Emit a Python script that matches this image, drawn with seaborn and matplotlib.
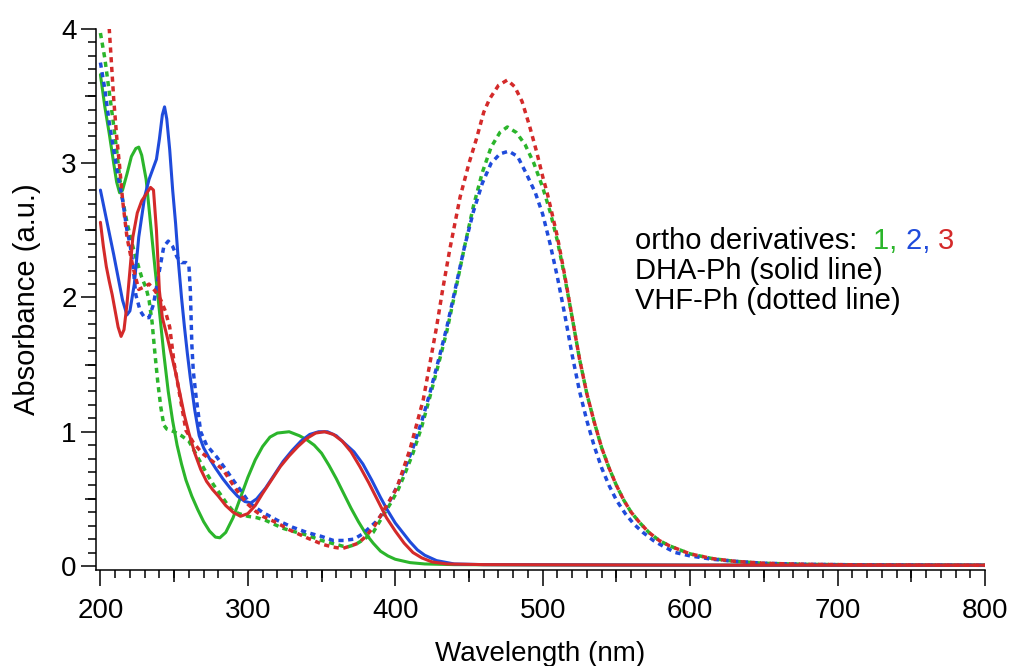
import pandas as pd
import matplotlib.pyplot as plt
import seaborn as sns
from matplotlib.ticker import MultipleLocator, NullLocator


# DHA-Ph, ortho derivative 1 (solid, green)
wl_dha1 = [200, 203, 206, 209, 211, 213, 215, 218, 221, 224,
           226, 228, 231, 234, 237, 240, 243, 246, 249, 252,
           255, 258, 262, 266, 270, 274, 278, 281, 285, 290,
           295, 300, 305, 310, 315, 320, 328, 335, 340, 345,
           350, 355, 360, 365, 370, 375, 380, 385, 390, 395,
           400, 410, 420, 440, 500, 600, 700, 800]
a_dha1 = [3.66, 3.42, 3.22, 3.00, 2.86, 2.78, 2.80, 2.92, 3.05, 3.11,
          3.12, 3.06, 2.88, 2.55, 2.22, 1.90, 1.58, 1.30, 1.08, 0.90,
          0.76, 0.64, 0.52, 0.42, 0.33, 0.26, 0.215, 0.21, 0.25, 0.36,
          0.51, 0.66, 0.79, 0.89, 0.96, 0.99, 1.00, 0.97, 0.94, 0.90,
          0.84, 0.75, 0.65, 0.54, 0.43, 0.33, 0.24, 0.17, 0.11, 0.075,
          0.05, 0.025, 0.015, 0.01, 0.008, 0.006, 0.006, 0.006]

# DHA-Ph, ortho derivative 2 (solid, blue)
wl_dha2 = [200, 203, 206, 209, 212, 215, 218, 220, 223, 226,
           230, 233, 236, 238, 240, 242, 243.5, 245, 247, 249,
           251, 253, 255, 257, 259, 261, 264, 267, 270, 274,
           278, 283, 288, 293, 298, 302, 306, 312, 318, 324,
           330, 336, 342, 348, 354, 360, 366, 372, 378, 384,
           390, 395, 400, 405, 410, 415, 420, 428, 440, 460,
           600, 800]
a_dha2 = [2.80, 2.64, 2.48, 2.32, 2.15, 1.98, 1.87, 1.90, 2.10, 2.45,
          2.75, 2.88, 2.97, 3.03, 3.18, 3.36, 3.42, 3.33, 3.10, 2.80,
          2.55, 2.25, 2.00, 1.78, 1.58, 1.40, 1.16, 0.97, 0.88, 0.80,
          0.73, 0.65, 0.58, 0.52, 0.48, 0.47, 0.50, 0.58, 0.68, 0.78,
          0.86, 0.93, 0.98, 1.00, 1.00, 0.97, 0.91, 0.85, 0.76, 0.64,
          0.51, 0.41, 0.32, 0.25, 0.18, 0.12, 0.08, 0.04, 0.015, 0.01,
          0.006, 0.006]

# DHA-Ph, ortho derivative 3 (solid, red)
wl_dha3 = [200, 202, 204, 206, 208, 210, 212, 214, 216, 218,
           222, 225, 228, 231, 234, 236, 238, 240, 242, 245,
           248, 251, 254, 257, 260, 264, 268, 272, 276, 280,
           285, 290, 295, 300, 305, 310, 316, 322, 328, 334,
           340, 346, 352, 358, 364, 370, 376, 382, 388, 394,
           400, 406, 412, 418, 425, 435, 460, 600, 800]
a_dha3 = [2.56, 2.38, 2.23, 2.12, 2.02, 1.90, 1.78, 1.71, 1.76, 1.95,
          2.45, 2.63, 2.72, 2.77, 2.82, 2.80, 2.50, 2.05, 1.85, 1.72,
          1.58, 1.44, 1.28, 1.12, 0.99, 0.84, 0.72, 0.63, 0.57, 0.52,
          0.45, 0.40, 0.37, 0.39, 0.45, 0.54, 0.64, 0.74, 0.82, 0.89,
          0.95, 0.99, 1.00, 0.98, 0.93, 0.85, 0.74, 0.62, 0.49, 0.36,
          0.26, 0.17, 0.10, 0.06, 0.03, 0.015, 0.01, 0.006, 0.006]

# VHF-Ph, ortho derivative 1 (dotted, green)
wl_vhf1 = [200, 203, 206, 209, 211, 213, 215, 218, 221, 224,
           228, 231, 233, 235, 237, 239, 241, 243, 245, 250,
           255, 260, 264, 268, 272, 277, 281, 286, 290, 294,
           300, 306, 312, 318, 324, 330, 340, 350, 360, 367,
           373, 379, 385, 392, 397, 402, 407, 412, 418, 423,
           429, 435, 441, 447, 453, 459, 465, 471, 476, 482,
           488, 494, 500, 505, 510, 515, 520, 525, 530, 535,
           540, 545, 550, 555, 560, 566, 572, 579, 586, 593,
           600, 615, 630, 650, 680, 720, 800]
a_vhf1 = [3.97, 3.78, 3.53, 3.28, 3.10, 2.90, 2.73, 2.56, 2.42, 2.30,
          2.15, 2.07, 1.98, 1.82, 1.58, 1.36, 1.18, 1.05, 1.02, 1.00,
          0.97, 0.93, 0.85, 0.77, 0.69, 0.60, 0.54, 0.46, 0.41, 0.39,
          0.37, 0.36, 0.34, 0.31, 0.28, 0.26, 0.23, 0.19, 0.16, 0.14,
          0.16, 0.20, 0.25, 0.38, 0.47, 0.57, 0.70, 0.84, 1.04, 1.24,
          1.49, 1.75, 2.06, 2.38, 2.68, 2.93, 3.12, 3.23, 3.27, 3.23,
          3.14, 3.00, 2.82, 2.64, 2.42, 2.15, 1.85, 1.54, 1.28, 1.07,
          0.88, 0.73, 0.60, 0.49, 0.40, 0.32, 0.25, 0.19, 0.15, 0.12,
          0.09, 0.055, 0.035, 0.02, 0.012, 0.008, 0.005]

# VHF-Ph, ortho derivative 2 (dotted, blue)
wl_vhf2 = [200, 203, 206, 209, 212, 215, 218, 220, 222, 224,
           227, 230, 233, 236, 240, 243, 246, 249, 252, 255,
           258, 260, 261, 262, 263, 265, 268, 272, 279, 285,
           290, 296, 301, 306, 310, 320, 330, 340, 350, 358,
           365, 372, 378, 383, 387, 392, 397, 402, 407, 412,
           418, 423, 429, 435, 441, 447, 453, 459, 465, 471,
           477, 483, 489, 495, 500, 505, 510, 515, 520, 525,
           530, 535, 540, 545, 550, 556, 562, 568, 575, 582,
           590, 600, 615, 630, 650, 680, 720, 800]
a_vhf2 = [3.75, 3.55, 3.30, 3.10, 2.90, 2.73, 2.50, 2.40, 2.25, 2.02,
          1.90, 1.85, 1.85, 1.95, 2.20, 2.38, 2.42, 2.38, 2.30, 2.26,
          2.26, 2.24, 2.05, 1.65, 1.45, 1.25, 1.00, 0.90, 0.81, 0.72,
          0.64, 0.55, 0.47, 0.43, 0.40, 0.34, 0.29, 0.25, 0.22, 0.19,
          0.19, 0.20, 0.24, 0.29, 0.33, 0.40, 0.50, 0.61, 0.74, 0.88,
          1.08, 1.27, 1.52, 1.78, 2.08, 2.38, 2.64, 2.85, 3.00, 3.07,
          3.09, 3.05, 2.92, 2.78, 2.62, 2.40, 2.15, 1.87, 1.57, 1.30,
          1.08, 0.89, 0.73, 0.60, 0.49, 0.39, 0.31, 0.25, 0.19, 0.145,
          0.10, 0.075, 0.05, 0.035, 0.02, 0.012, 0.008, 0.005]

# VHF-Ph, ortho derivative 3 (dotted, red)
wl_vhf3 = [204, 206, 209, 211, 213, 215, 218, 222, 226, 230,
           233, 237, 241, 244, 247, 250, 254, 258, 263, 269,
           276, 283, 289, 294, 300, 305, 310, 320, 328, 340,
           351, 358, 364, 370, 375, 380, 386, 392, 401, 410,
           419, 428, 432, 437, 444, 450, 455, 460, 464, 470,
           476, 481, 486, 491, 496, 500, 503, 506, 510, 515,
           520, 525, 530, 535, 540, 545, 550, 555, 560, 566,
           572, 579, 586, 593, 600, 615, 630, 650, 680, 720,
           800]
a_vhf3 = [4.25, 4.00, 3.48, 3.20, 2.98, 2.73, 2.45, 2.23, 2.06, 2.08,
          2.10, 2.05, 1.98, 1.90, 1.78, 1.51, 1.26, 1.01, 0.92, 0.84,
          0.78, 0.72, 0.62, 0.54, 0.46, 0.41, 0.37, 0.32, 0.27, 0.21,
          0.16, 0.14, 0.13, 0.15, 0.17, 0.22, 0.30, 0.41, 0.58, 0.87,
          1.24, 1.78, 2.05, 2.36, 2.75, 3.00, 3.18, 3.38, 3.48, 3.58,
          3.62, 3.57, 3.46, 3.28, 3.08, 2.90, 2.78, 2.64, 2.45, 2.16,
          1.85, 1.54, 1.28, 1.07, 0.88, 0.73, 0.60, 0.49, 0.40, 0.32,
          0.25, 0.19, 0.15, 0.12, 0.09, 0.055, 0.035, 0.02, 0.012, 0.008,
          0.005]

farben = {'1': '#2bb52b', '2': '#1f4bdb', '3': '#d42a2a'}

series = [('1', 'DHA', wl_dha1, a_dha1), ('2', 'DHA', wl_dha2, a_dha2),
          ('3', 'DHA', wl_dha3, a_dha3), ('1', 'VHF', wl_vhf1, a_vhf1),
          ('2', 'VHF', wl_vhf2, a_vhf2), ('3', 'VHF', wl_vhf3, a_vhf3)]
df = pd.concat([pd.DataFrame({'wl': w, 'abs': a, 'deriv': d, 'form': f})
                for d, f, w, a in series], ignore_index=True)


sns.set_style('ticks')
plt.rcParams['font.family'] = ['Liberation Sans', 'DejaVu Sans']
plt.rcParams['text.color'] = 'black'
plt.rcParams['axes.labelcolor'] = 'black'
plt.rcParams['xtick.color'] = 'black'
plt.rcParams['ytick.color'] = 'black'

fig = plt.figure(figsize=(10.09, 6.66), dpi=100)
ax = fig.add_axes([96 / 1009, 1 - 570 / 666, 889 / 1009, 541 / 666])

sns.lineplot(data=df, x='wl', y='abs', hue='deriv', style='form',
             size='form', sizes={'DHA': 2.2, 'VHF': 2.5},
             palette=farben, hue_order=['1', '2', '3'],
             style_order=['DHA', 'VHF'],
             dashes={'DHA': '', 'VHF': (1.5, 1.3)},
             legend=False, ax=ax)

ax.set_xlim(197, 800)
ax.set_ylim(-0.03, 4.0)
sns.despine(ax=ax)
for s in ['left', 'bottom']:
    ax.spines[s].set_linewidth(1.1)
    ax.spines[s].set_color('black')

ax.xaxis.set_major_locator(MultipleLocator(100))
ax.xaxis.set_minor_locator(MultipleLocator(10))
ax.yaxis.set_major_locator(MultipleLocator(1))
ax.yaxis.set_minor_locator(MultipleLocator(0.1))
ax.tick_params(axis='x', which='major', length=11.5, width=1.1, pad=9,
               labelsize=20)
ax.tick_params(axis='x', which='minor', length=5.5, width=1.1)
ax.tick_params(axis='y', which='major', length=11, width=1.1, pad=3,
               labelsize=20)
ax.tick_params(axis='y', which='minor', length=5.5, width=1.1)

# mittlere Striche bei 50 nm bzw. 0.5
sx = ax.secondary_xaxis('bottom')
sx.set_xticks([250, 350, 450, 550, 650, 750])
sx.xaxis.set_minor_locator(NullLocator())
sx.tick_params(length=8.5, width=1.1, labelbottom=False)
sx.spines['bottom'].set_visible(False)
sy = ax.secondary_yaxis('left')
sy.set_yticks([0.5, 1.5, 2.5, 3.5])
sy.yaxis.set_minor_locator(NullLocator())
sy.tick_params(length=8, width=1.1, labelleft=False)
sy.spines['left'].set_visible(False)

ax.set_xlabel('Wavelength (nm)', fontsize=20, labelpad=12)
ax.set_ylabel('Absorbance (a.u.)', fontsize=21)
ax.yaxis.set_label_coords(-0.062, 0.5)

tx = 0.606
t1 = ax.text(tx, 0.593, 'ortho derivatives:  ', transform=ax.transAxes,
             fontsize=21, va='baseline')
t2 = ax.annotate('1, ', xy=(1, 0), xycoords=t1, fontsize=21,
                 va='bottom', color=farben['1'])
t3 = ax.annotate('2, ', xy=(1, 0), xycoords=t2, fontsize=21,
                 va='bottom', color=farben['2'])
ax.annotate('3', xy=(1, 0), xycoords=t3, fontsize=21,
            va='bottom', color=farben['3'])
ax.text(tx, 0.538, 'DHA-Ph (solid line)', transform=ax.transAxes,
        fontsize=21, va='baseline')
ax.text(tx, 0.483, 'VHF-Ph (dotted line)', transform=ax.transAxes,
        fontsize=21, va='baseline')

plt.savefig('out.png', dpi=100)
